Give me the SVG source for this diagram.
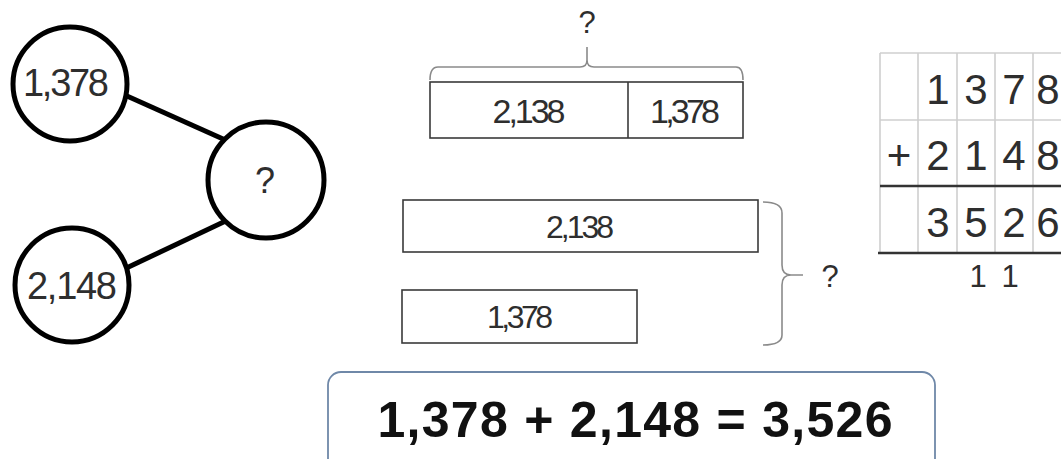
<svg xmlns="http://www.w3.org/2000/svg" width="1061" height="459" viewBox="0 0 1061 459">
<style>
.num{font-family:"Liberation Sans Narrow","Liberation Sans",sans-serif;fill:#2e2e2e;text-anchor:middle}
.q{font-family:"Liberation Sans",sans-serif;fill:#2e2e2e;text-anchor:middle}
.bond{stroke:#000;stroke-width:5;fill:none}
.circ{stroke:#000;stroke-width:5;fill:#fff}
.bar{stroke:#3a3a3a;stroke-width:1.6;fill:#fff}
.brace{stroke:#8a8a8a;stroke-width:1.6;fill:none}
.grid{stroke:#cfcfcf;stroke-width:1.6;fill:none}
.rule{stroke:#333;stroke-width:2.5}
.eq{font-family:"Liberation Sans",Arial,sans-serif;font-weight:bold;fill:#111;text-anchor:middle}
</style>
<rect width="1061" height="459" fill="#fff"/>
<g id="connectors">
<line class="bond" x1="118" y1="92" x2="232" y2="143"/>
<line class="bond" x1="118" y1="272" x2="232" y2="218"/>
</g>
<g id="node-1378">
<circle class="circ" cx="70" cy="84" r="57"/>
<text class="num" x="66" y="96" font-size="38" textLength="86" lengthAdjust="spacing">1,378</text>
</g>
<g id="node-2148">
<circle class="circ" cx="72" cy="285" r="57"/>
<text class="num" x="72" y="299" font-size="38" textLength="90" lengthAdjust="spacing">2,148</text>
</g>
<g id="node-sum">
<circle class="circ" cx="266" cy="180" r="58"/>
<text class="q" x="265" y="193" font-size="36">?</text>
</g>
<g id="bar-top">
<path class="brace" d="M430,80 Q430,67 438,67 L580,67 Q587,67 587,60 L587,47 M587,60 Q587,67 594,67 L736,67 Q743,67 743,80"/>
<text class="q" x="587" y="33" font-size="31">?</text>
<rect class="bar" x="430" y="82" width="313" height="56"/>
<line class="bar" x1="628" y1="82" x2="628" y2="138"/>
<text class="num" x="529" y="123" font-size="34" textLength="73" lengthAdjust="spacing">2,138</text>
<text class="num" x="685" y="123" font-size="34" textLength="70" lengthAdjust="spacing">1,378</text>
</g>
<g id="bar-2138">
<rect class="bar" x="403" y="200" width="355" height="52"/>
<text class="num" x="580" y="238" font-size="32" textLength="68" lengthAdjust="spacing">2,138</text>
</g>
<g id="bar-1378">
<rect class="bar" x="402" y="290" width="235" height="53"/>
<text class="num" x="520" y="328" font-size="32" textLength="66" lengthAdjust="spacing">1,378</text>
</g>
<g id="brace-right">
<path class="brace" d="M763,202 Q782,202 782,213 L782,265 Q782,275 791,275 L803,275 M791,275 Q782,275 782,285 L782,335 Q782,345 763,345"/>
<text class="q" x="830" y="287" font-size="31">?</text>
</g>
<g id="column-addition">
<path class="grid" d="M880,53 L1061,53 M880,120 L1061,120 M880,53 L880,253 M918,53 L918,253 M957,53 L957,253 M995,53 L995,253 M1033,53 L1033,253"/>
<line class="rule" x1="880" y1="186" x2="1061" y2="186"/>
<line class="rule" x1="878" y1="253" x2="1061" y2="253"/>
<g font-size="42">
<text class="q" x="938" y="104">1</text>
<text class="q" x="976" y="104">3</text>
<text class="q" x="1014" y="104">7</text>
<text class="q" x="1048" y="104">8</text>
<text class="q" x="899" y="170">+</text>
<text class="q" x="938" y="170">2</text>
<text class="q" x="976" y="170">1</text>
<text class="q" x="1014" y="170">4</text>
<text class="q" x="1048" y="170">8</text>
<text class="q" x="938" y="237">3</text>
<text class="q" x="976" y="237">5</text>
<text class="q" x="1014" y="237">2</text>
<text class="q" x="1048" y="237">6</text>
</g>
<text class="q" x="978" y="287" font-size="31">1</text>
<text class="q" x="1010" y="287" font-size="31">1</text>
</g>
<g id="equation">
<rect x="328" y="372" width="607" height="110" rx="13" ry="13" fill="#fff" stroke="#6f88a8" stroke-width="1.8"/>
<text class="eq" x="635" y="437" font-size="50" textLength="515" lengthAdjust="spacing">1,378 + 2,148 = 3,526</text>
</g>
</svg>
